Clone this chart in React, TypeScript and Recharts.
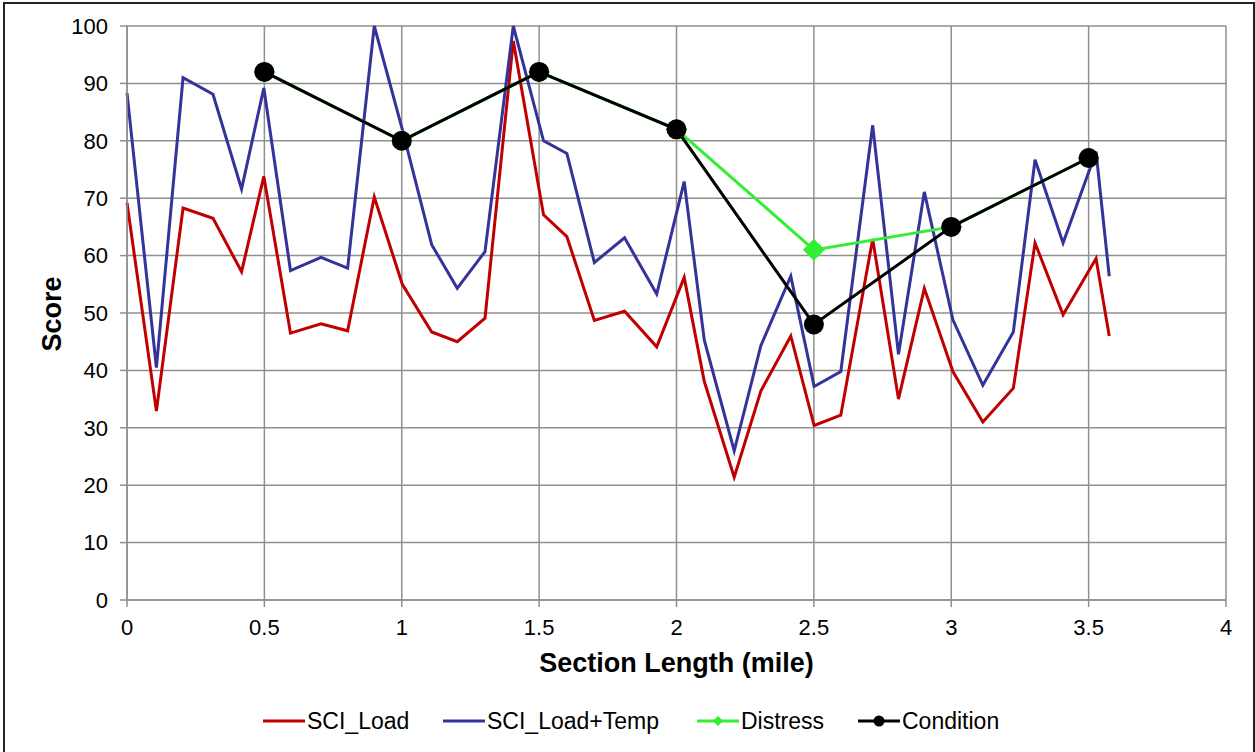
import React from 'react';
import { LineChart, Line, XAxis, YAxis, CartesianGrid, Label } from 'recharts';

// ---- data ----
const sciX = [0, 0.107, 0.204, 0.313, 0.417, 0.498, 0.595, 0.706, 0.803, 0.9, 1.002, 1.109, 1.202, 1.303, 1.406, 1.516, 1.601, 1.701, 1.811, 1.928, 2.028, 2.101, 2.21, 2.307, 2.416, 2.501, 2.598, 2.714, 2.808, 2.902, 3.006, 3.115, 3.226, 3.305, 3.407, 3.527, 3.575];
const sciLoad = [69.2, 32.9, 68.3, 66.5, 57.2, 73.8, 46.5, 48.1, 46.9, 70.2, 55.0, 46.7, 45.0, 49.1, 97.4, 67.1, 63.3, 48.7, 50.3, 44.1, 56.2, 38.1, 21.4, 36.4, 46.0, 30.4, 32.2, 62.9, 35.0, 54.3, 39.8, 31.0, 36.9, 62.2, 49.7, 59.5, 46.0];
const sciLoadTemp = [88.3, 40.5, 91.0, 88.1, 71.6, 89.2, 57.4, 59.7, 57.8, 100, 82.0, 61.9, 54.3, 60.7, 100, 80.0, 77.8, 58.8, 63.1, 53.3, 72.9, 45.3, 26.0, 44.3, 56.4, 37.2, 39.8, 82.7, 42.8, 71.1, 48.8, 37.4, 46.7, 76.7, 62.2, 78.1, 56.4];
const mileX = [0.5, 1, 1.5, 2, 2.5, 3, 3.5];
const distress = [92, 80, 92, 82, 61, 65, 77];
const condition = [92, 80, 92, 82, 48, 65, 77];
const xTicks = [0, 0.5, 1, 1.5, 2, 2.5, 3, 3.5, 4];
const yTicks = [0, 10, 20, 30, 40, 50, 60, 70, 80, 90, 100];
const seriesNames = ['SCI_Load', 'SCI_Load+Temp', 'Distress', 'Condition'];

const sciLoadData = sciX.map((x, i) => ({ x, v: sciLoad[i] }));
const sciLoadTempData = sciX.map((x, i) => ({ x, v: sciLoadTemp[i] }));
const distressData = mileX.map((x, i) => ({ x, v: distress[i] }));
const conditionData = mileX.map((x, i) => ({ x, v: condition[i] }));

const RED = '#C00000';
const BLUE = '#333399';
const GREEN = '#33EE33';
const BLACK = '#000000';
const GRID = '#8f8f8f';
const FONT = "'Liberation Sans', Arial, sans-serif";

const DiamondDot = (props: any) => {
  const { cx, cy, index } = props;
  if (cx == null || cy == null) return <g key={`d-${index}`} />;
  const r = 11;
  return (
    <polygon
      key={`d-${index}`}
      points={`${cx},${cy - r} ${cx + r},${cy} ${cx},${cy + r} ${cx - r},${cy}`}
      fill={GREEN}
    />
  );
};

const CircleDot = (props: any) => {
  const { cx, cy, index } = props;
  if (cx == null || cy == null) return <g key={`c-${index}`} />;
  return <circle key={`c-${index}`} cx={cx} cy={cy} r={10} fill={BLACK} />;
};

const XTitle = (props: any) => {
  const vb = props.viewBox || { x: 127, y: 600, width: 1099 };
  return (
    <text
      x={vb.x + vb.width / 2}
      y={vb.y + 72}
      textAnchor="middle"
      fontFamily={FONT}
      fontWeight="bold"
      fontSize={27}
      fill="#000"
    >
      Section Length (mile)
    </text>
  );
};

const YTitle = (props: any) => {
  const vb = props.viewBox || { x: 0, y: 26, width: 127, height: 574 };
  const cx = 52;
  const cy = vb.y + vb.height / 2 + 1;
  return (
    <text
      x={cx}
      y={cy}
      textAnchor="middle"
      dominantBaseline="central"
      transform={`rotate(-90, ${cx}, ${cy})`}
      fontFamily={FONT}
      fontWeight="bold"
      fontSize={27}
      fill="#000"
    >
      Score
    </text>
  );
};

const LegendItem = ({ left, color, label, marker }: { left: number; color: string; label: string; marker: string }) => (
  <div style={{ position: 'absolute', left, top: 706, height: 30, display: 'flex', alignItems: 'center' }}>
    <svg width={44} height={20} style={{ display: 'block' }}>
      <line x1={0} y1={10} x2={42} y2={10} stroke={color} strokeWidth={3} />
      {marker === 'diamond' && <polygon points="21,5 26,10 21,15 16,10" fill={color} />}
      {marker === 'circle' && <circle cx={21} cy={10} r={5.5} fill={color} />}
    </svg>
    <span style={{ fontFamily: FONT, fontSize: 23, color: '#000', lineHeight: '30px', whiteSpace: 'nowrap' }}>{label}</span>
  </div>
);

export default function App() {
  return (
    <div style={{ position: 'absolute', left: 0, top: 0, width: 1255, height: 752, background: '#fff', overflow: 'hidden' }}>
      <div
        style={{
          position: 'absolute',
          left: 3,
          top: 2,
          width: 1248,
          height: 760,
          borderLeft: '2px solid #222',
          borderTop: '2px solid #222',
          borderRight: '2px solid #222',
        }}
      />
      <div style={{ position: 'absolute', left: 0, top: 0 }}>
        <LineChart width={1255} height={752} margin={{ top: 26, right: 29, bottom: 0, left: 0 }}>
          <CartesianGrid stroke={GRID} strokeWidth={1.5} horizontal vertical />
          <XAxis
            type="number"
            dataKey="x"
            domain={[0, 4]}
            ticks={xTicks}
            interval={0}
            height={152}
            tickSize={7}
            tickMargin={12}
            axisLine={{ stroke: GRID, strokeWidth: 1.5 }}
            tickLine={{ stroke: GRID, strokeWidth: 1.5 }}
            tick={{ fill: '#000', fontSize: 22, fontFamily: FONT }}
          >
            <Label content={XTitle} />
          </XAxis>
          <YAxis
            type="number"
            domain={[0, 100]}
            ticks={yTicks}
            interval={0}
            width={127}
            tickSize={7}
            tickMargin={12}
            axisLine={{ stroke: GRID, strokeWidth: 1.5 }}
            tickLine={{ stroke: GRID, strokeWidth: 1.5 }}
            tick={{ fill: '#000', fontSize: 22, fontFamily: FONT }}
          >
            <Label content={YTitle} />
          </YAxis>
          <Line data={sciLoadData} dataKey="v" name={seriesNames[0]} type="linear" stroke={RED} strokeWidth={3} dot={false} activeDot={false} isAnimationActive={false} />
          <Line data={sciLoadTempData} dataKey="v" name={seriesNames[1]} type="linear" stroke={BLUE} strokeWidth={3} dot={false} activeDot={false} isAnimationActive={false} />
          <Line data={distressData} dataKey="v" name={seriesNames[2]} type="linear" stroke={GREEN} strokeWidth={3} dot={DiamondDot} activeDot={false} isAnimationActive={false} />
          <Line data={conditionData} dataKey="v" name={seriesNames[3]} type="linear" stroke={BLACK} strokeWidth={3} dot={CircleDot} activeDot={false} isAnimationActive={false} />
        </LineChart>
      </div>
      <LegendItem left={263} color={RED} label={seriesNames[0]} marker="none" />
      <LegendItem left={443} color={BLUE} label={seriesNames[1]} marker="none" />
      <LegendItem left={697} color={GREEN} label={seriesNames[2]} marker="diamond" />
      <LegendItem left={858} color={BLACK} label={seriesNames[3]} marker="circle" />
    </div>
  );
}
